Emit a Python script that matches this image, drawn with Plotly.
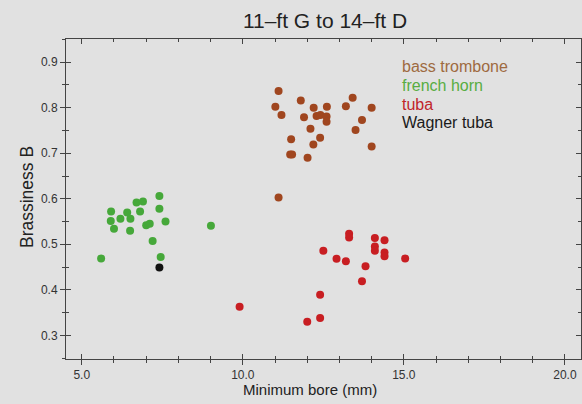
import plotly.graph_objects as go

# Data
trombone_x = [11.11, 11.01, 11.20, 11.80, 12.20, 12.61, 11.90, 12.29, 12.41, 12.60, 12.60,
              13.20, 13.41, 14.00, 13.70, 13.50, 12.10, 11.50, 12.40, 12.19, 14.00, 11.47,
              11.53, 12.01, 11.11]
trombone_y = [0.837, 0.802, 0.784, 0.816, 0.800, 0.802, 0.779, 0.782, 0.784, 0.781, 0.769,
              0.803, 0.822, 0.800, 0.773, 0.751, 0.754, 0.731, 0.734, 0.719, 0.715, 0.697,
              0.697, 0.690, 0.603]

horn_x = [7.41, 6.70, 6.90, 5.91, 6.41, 6.81, 7.41, 5.90, 6.20, 6.51, 7.60, 7.00, 7.11,
          6.00, 6.50, 9.01, 7.20, 5.60, 7.45]
horn_y = [0.606, 0.592, 0.594, 0.572, 0.570, 0.572, 0.578, 0.551, 0.556, 0.556, 0.550,
          0.542, 0.545, 0.534, 0.530, 0.541, 0.507, 0.469, 0.472]

tuba_x = [13.30, 13.30, 14.10, 14.40, 14.10, 14.10, 14.40, 14.40, 12.50, 12.91, 13.20,
          15.04, 13.81, 13.70, 12.40, 9.90, 12.40, 12.00]
tuba_y = [0.523, 0.515, 0.514, 0.509, 0.495, 0.486, 0.482, 0.474, 0.486, 0.468, 0.463,
          0.469, 0.452, 0.419, 0.389, 0.363, 0.338, 0.330]

wagner_x = [7.41]
wagner_y = [0.449]

series_names = ["bass trombone", "french horn", "tuba", "Wagner tuba"]
marker_colors = ["#a0461f", "#46a83a", "#c81e22", "#111111"]
label_colors = ["#9e6a40", "#58ad42", "#c0262a", "#1a1a1a"]

x_range = [4.51, 20.5]
y_range = [0.248, 0.951]

bg = "#e1e1e1"
axcol = "#444444"
FONT = "Liberation Sans, Arial, sans-serif"

fig = go.Figure()
for xs, ys, c in zip([trombone_x, horn_x, tuba_x, wagner_x],
                     [trombone_y, horn_y, tuba_y, wagner_y], marker_colors):
    fig.add_trace(go.Scatter(x=xs, y=ys, mode="markers",
                             marker=dict(size=8, color=c, line=dict(width=0)),
                             showlegend=False, hoverinfo="skip"))

# empty trace so the overlay axes (inward ticks) are drawn
fig.add_trace(go.Scatter(x=[], y=[], xaxis="x2", yaxis="y2", showlegend=False))

tickfont = dict(family=FONT, size=12, color="#333333")

L, R, T, B = 66, 1, 39, 45
W, H = 582, 404
PW, PH = W - L - R, H - T - B

fig.update_layout(
    width=W, height=H,
    paper_bgcolor=bg, plot_bgcolor=bg,
    margin=dict(l=L, r=R, t=T, b=B, autoexpand=False),
    title=dict(text="11\u2013ft G to 14\u2013ft D", x=325 / W, xanchor="center",
               y=1 - 21 / H, yanchor="middle", automargin=False,
               font=dict(family=FONT, size=21, color="#222222")),
    xaxis=dict(range=x_range, showgrid=False, zeroline=False, showline=True, linecolor=axcol,
               linewidth=1, mirror=True, ticks="outside", ticklen=5, tickcolor=axcol,
               tickvals=[5, 10, 15, 20], ticktext=["5.0", "10.0", "15.0", "20.0"],
               tickfont=tickfont, automargin=False,
               minor=dict(ticks="outside", ticklen=3, tickcolor=axcol, dtick=1, tick0=0,
                          showgrid=False)),
    yaxis=dict(range=y_range, showgrid=False, zeroline=False, showline=True, linecolor=axcol,
               linewidth=1, mirror=True, ticks="outside", ticklen=5, tickcolor=axcol,
               tickvals=[0.3, 0.4, 0.5, 0.6, 0.7, 0.8, 0.9],
               ticktext=["0.3", "0.4", "0.5", "0.6", "0.7", "0.8", "0.9"],
               tickfont=tickfont, automargin=False,
               minor=dict(ticks="outside", ticklen=3, tickcolor=axcol, dtick=0.05, tick0=0,
                          showgrid=False)),
    xaxis2=dict(range=x_range, overlaying="x", side="bottom", showgrid=False, zeroline=False,
                showline=False, showticklabels=False, ticks="inside", ticklen=5,
                tickcolor=axcol, mirror="ticks", tickvals=[5, 10, 15, 20], automargin=False,
                minor=dict(ticks="inside", ticklen=3, tickcolor=axcol, dtick=1, tick0=0,
                           showgrid=False)),
    yaxis2=dict(range=y_range, overlaying="y", side="left", showgrid=False, zeroline=False,
                showline=False, showticklabels=False, ticks="inside", ticklen=5,
                tickcolor=axcol, mirror="ticks", tickvals=[0.3, 0.4, 0.5, 0.6, 0.7, 0.8, 0.9],
                automargin=False,
                minor=dict(ticks="inside", ticklen=3, tickcolor=axcol, dtick=0.05, tick0=0,
                           showgrid=False)),
)

# axis titles as annotations
fig.add_annotation(text="Minimum bore (mm)", xref="paper", yref="paper",
                   x=(310 - L) / PW, y=-(389 - (H - B)) / PH, xanchor="center", yanchor="middle",
                   showarrow=False,
                   font=dict(family=FONT, size=15, color="#222222"))
fig.add_annotation(text="Brassiness B", xref="paper", yref="paper",
                   x=-(L - 27) / PW, y=((H - B) - 197) / PH, xanchor="center", yanchor="middle",
                   textangle=-90, showarrow=False,
                   font=dict(family=FONT, size=17.5, color="#222222"))

# text-only legend
legend_y_px = [66, 85, 104, 123]
for name, col, ypx in zip(series_names, label_colors, legend_y_px):
    fig.add_annotation(text=name, xref="paper", yref="paper",
                       x=(400 - L) / PW, y=((H - B) - ypx) / PH, xanchor="left", yanchor="middle",
                       showarrow=False,
                       font=dict(family=FONT, size=16, color=col))

fig.write_html("out.html", config={"displayModeBar": False},
               post_script="document.body.style.margin='0';document.body.style.background='#e1e1e1';")
